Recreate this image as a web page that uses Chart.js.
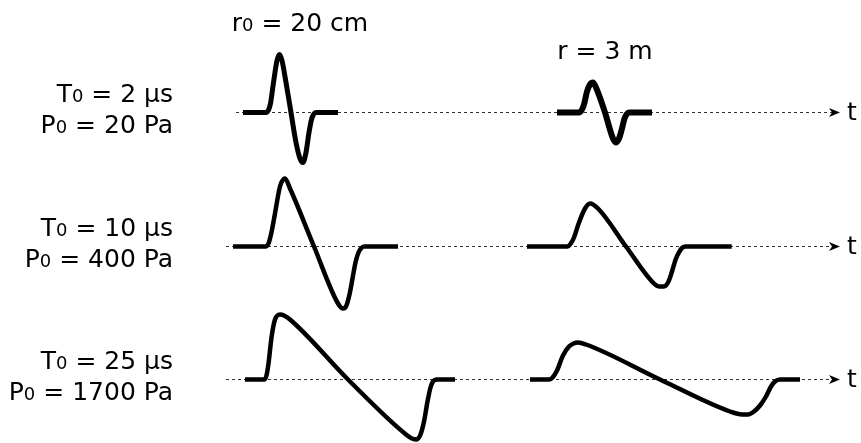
<!DOCTYPE html>
<html><head><meta charset="utf-8">
<script src="https://cdn.jsdelivr.net/npm/chart.js@4"></script>
<style>html,body{margin:0;padding:0;background:#fff}canvas{display:block}</style>
</head><body>
<canvas id="c" width="861" height="443"></canvas>
<script>
// ---- data (time in diagram units, pressure in relative units, positive = overpressure) ----
const rowLabelsT = ["2 µs", "10 µs", "25 µs"];
const rowLabelsP = ["20 Pa", "400 Pa", "1700 Pa"];
const columnTitles = ["r₀ = 20 cm", "r = 3 m"];
const axisLabel = "t";

// row 1 : T0 = 2 us, P0 = 20 Pa
const w1nearT = [243,266,268.5,270.5,273.5,277,279.5,282,286,291,296,300,303,306,309,311.5,313.5,316,338];
const w1nearP = [0,0,2.5,9,30,52,58,52,30,0,-30,-46,-50,-40,-20,-7,-2,0,0];
const w1farT  = [557,579,581.5,584,587,590,593,596,605,613,616,619,622,624.5,626.5,629,652];
const w1farP  = [0,0,2,8,21,28,30,25,0,-26,-30,-26,-16,-6,-2,0,0];
// row 2 : T0 = 10 us, P0 = 400 Pa
const w2nearT = [233,266,268.5,271,275,280,285,290,314,338,343,346,349.5,352.5,355.5,358.5,361,364,398];
const w2nearP = [0,0,3,12,33,60,68,58,0,-57,-62,-60,-48,-32,-16,-6,-2,0,0];
const w2farT  = [527,567.5,570.5,574,579,585,590,598,626,652,659,664,668.5,672,676,679.5,682,685.5,731.7];
const w2farP  = [0,0,2.5,9,24,38,43,38,0,-35,-40,-40,-35,-25,-12,-5,-1.5,0,0];
// row 3 : T0 = 25 us, P0 = 1700 Pa
const w3nearT = [245,264.5,266.5,268.5,271.5,275,280,284,290,348,406,412,416.5,420.5,424,427.5,430.5,433,437,455];
const w3nearP = [0,0,4,16,42,60,65,64,60,0,-55,-59,-60,-55,-42,-22,-8,-2,0,0];
const w3farT  = [530,549.5,553,557,563,569,573.5,578,586,660,730,742,748,754,760,766,771,775,780,800];
const w3farP  = [0,0,2.5,9,24,33,36,37,35,0,-32,-35,-35,-32,-26,-17,-7,-2,0,0];

// ---- layout (positions) ----
const rowBase = [112.5, 246.5, 379.5];
const axisStart = [236, 226, 226];
const axisEnd = 840;
const lineWidths = [[5,6],[4.5,4.5],[4.5,4.5]];

function pts(T, P, base){ return T.map((t,i)=>({x:t, y:-(base - P[i])})); }

const waves = [
  [[w1nearT,w1nearP],[w1farT,w1farP]],
  [[w2nearT,w2nearP],[w2farT,w2farP]],
  [[w3nearT,w3nearP],[w3farT,w3farP]]
];

const datasets = [];
rowBase.forEach((b,r)=>{
  datasets.push({data:[{x:axisStart[r],y:-b},{x:axisEnd-8,y:-b}], borderColor:'#333', borderWidth:1,
    borderDash:[3,3], pointRadius:0, showLine:true, order:2});
});
waves.forEach((row,r)=>{
  row.forEach((w,c)=>{
    datasets.push({data:pts(w[0],w[1],rowBase[r]), borderColor:'#000', borderWidth:lineWidths[r][c],
      pointRadius:0, showLine:true, cubicInterpolationMode:'monotone', borderCapStyle:'butt',
      borderJoinStyle:'round', order:1});
  });
});

function richText(ctx, segs, x, y, align){
  let w=0;
  segs.forEach(s=>{ctx.font=s[1]+'px "DejaVu Sans"'; w+=ctx.measureText(s[0]).width;});
  let cx = align==='right'? x-w : align==='center'? x-w/2 : x;
  ctx.textAlign='left'; ctx.textBaseline='alphabetic';
  segs.forEach(s=>{ctx.font=s[1]+'px "DejaVu Sans"'; ctx.fillText(s[0],cx,y); cx+=ctx.measureText(s[0]).width;});
}

const deco = {
  id:'deco',
  afterDraw(chart){
    const ctx=chart.ctx, xs=chart.scales.x, ys=chart.scales.y;
    ctx.save();
    ctx.fillStyle='#000';
    rowBase.forEach((b,r)=>{
      const px=xs.getPixelForValue(axisEnd), py=ys.getPixelForValue(-b);
      ctx.beginPath();
      ctx.moveTo(px,py); ctx.lineTo(px-11,py-4.5); ctx.lineTo(px-8,py); ctx.lineTo(px-11,py+4.5); ctx.closePath();
      ctx.fill();
      richText(ctx,[[axisLabel,25]],px+7,py+7,'left');
      const lx=xs.getPixelForValue(173);
      richText(ctx,[['T',25],['0',18],[' = '+rowLabelsT[r],25]],lx,ys.getPixelForValue(-(b-11)),'right');
      richText(ctx,[['P',25],['0',18],[' = '+rowLabelsP[r],25]],lx,ys.getPixelForValue(-(b+20)),'right');
    });
    richText(ctx,[['r',25],['0',18],[' = 20 cm',25]],xs.getPixelForValue(300),ys.getPixelForValue(-31),'center');
    richText(ctx,[[columnTitles[1],25]],xs.getPixelForValue(605),ys.getPixelForValue(-59),'center');
    ctx.restore();
  }
};

new Chart(document.getElementById('c'),{
  type:'scatter',
  data:{datasets},
  options:{responsive:false, devicePixelRatio:1, animation:false,
    layout:{padding:0},
    plugins:{legend:{display:false},tooltip:{enabled:false}},
    scales:{x:{type:'linear',min:0,max:861,display:false},
            y:{type:'linear',min:-443,max:0,display:false}}},
  plugins:[deco]
});
</script>
</body></html>
